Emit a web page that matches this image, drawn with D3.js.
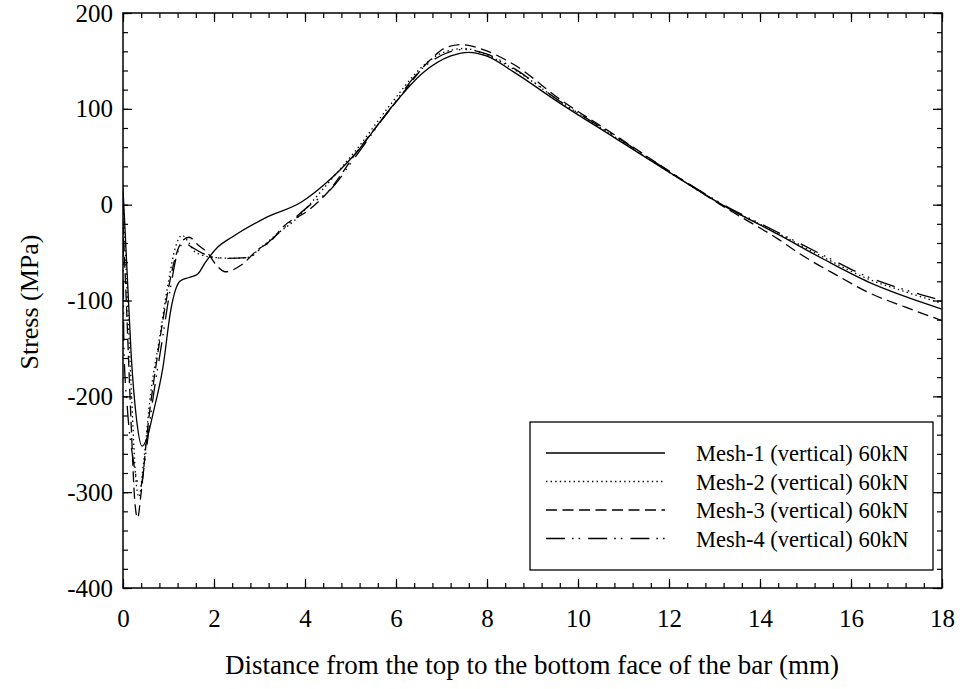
<!DOCTYPE html>
<html>
<head>
<meta charset="utf-8">
<script src="https://cdn.jsdelivr.net/npm/d3@7"></script>
<style>
  html, body { margin: 0; padding: 0; background: #fff; }
  svg { display: block; }
  text { font-family: "Liberation Serif", "Times New Roman", serif; fill: #000; }
</style>
</head>
<body>
<svg id="chart" width="964" height="689"></svg>
<script>
// Stress along the bar depth for four vertical meshes at 60 kN
const seriesNames = [
  "Mesh-1 (vertical) 60kN",
  "Mesh-2 (vertical) 60kN",
  "Mesh-3 (vertical) 60kN",
  "Mesh-4 (vertical) 60kN"
];

const mesh1X = [0, 0.08, 0.18, 0.3, 0.42, 0.55, 0.66, 0.88, 1.05, 1.25, 1.45, 1.65, 1.8, 2.09, 2.39, 3.12, 3.93, 4.4, 5.14, 5.87, 6.6, 7.19, 7.6, 8.0, 8.6, 9.6, 10.8, 12.0, 13.2, 14.4, 15.4, 16.4, 17.2, 18];
const mesh1Y = [17, -60, -157, -225, -252, -240, -218, -169, -110, -80, -76, -72, -61, -44, -34, -14, 3, 20, 55, 100, 138, 155, 159, 155, 138, 106, 70, 34, -1, -31, -57, -81, -96, -109];

const mesh2X = [0, 0.08, 0.18, 0.28, 0.35, 0.45, 0.6, 0.8, 1.0, 1.15, 1.3, 1.45, 1.6, 2.0, 2.4, 2.75, 3.0, 3.4, 3.78, 4.04, 4.5, 5.14, 5.87, 6.6, 7.0, 7.5, 8.0, 8.6, 9.6, 10.8, 12.0, 13.2, 14.4, 15.4, 16.4, 17.2, 18];
const mesh2Y = [5, -80, -190, -285, -305, -270, -200, -140, -80, -45, -32, -40, -50, -55, -56, -55, -46, -30, -16, -3, 22, 58, 104, 145, 158, 163, 156, 141, 108, 71, 34, -1, -30, -55, -78, -91, -103];

const mesh3X = [0, 0.08, 0.18, 0.26, 0.32, 0.4, 0.55, 0.75, 0.95, 1.15, 1.3, 1.45, 1.65, 1.87, 2.05, 2.25, 2.6, 2.96, 3.27, 3.5, 4.1, 4.5, 5.14, 6.0, 6.75, 7.1, 7.45, 7.9, 8.6, 9.6, 10.8, 12.0, 13.2, 14.4, 14.9, 15.7, 16.4, 17.2, 18];
const mesh3Y = [-20, -110, -230, -310, -327, -300, -230, -160, -100, -55, -38, -34, -42, -51, -63, -70, -63, -47, -37, -24, -5, 13, 55, 107, 151, 164, 167, 162, 146, 110, 73, 35, -2, -36, -52, -74, -92, -107, -121];

const mesh4X = [0, 0.02, 0.1, 0.22, 0.38, 0.5, 0.65, 0.85, 1.05, 1.2, 1.35, 1.5, 1.76, 2.0, 2.3, 2.75, 3.05, 3.5, 3.8, 4.2, 4.5, 5.14, 5.87, 6.6, 7.1, 7.5, 8.0, 8.6, 9.6, 10.8, 12.0, 13.2, 14.4, 15.4, 16.4, 17.2, 18];
const mesh4Y = [10, -150, -215, -265, -295, -260, -205, -145, -85, -50, -40, -44, -51, -55, -56, -55, -45, -26, -13, 3, 13, 52, 100, 143, 158, 162, 157, 142, 108, 72, 35, 0, -29, -53, -76, -89, -100];

const xTicks = [0, 2, 4, 6, 8, 10, 12, 14, 16, 18];
const yTicks = [-400, -300, -200, -100, 0, 100, 200];
const xMinorTicks = d3.range(0, 18.001, 0.4);
const yMinorTicks = d3.range(-400, 200.001, 20);

const xTitle = "Distance from the top to the bottom face of the bar (mm)";
const yTitle = "Stress (MPa)";

const dashStyles = ["none", "1.4,3.2", "11,5.5", "19,7,1.6,5,1.6,8"];

const series = [
  { name: seriesNames[0], xs: mesh1X, ys: mesh1Y, dash: dashStyles[0] },
  { name: seriesNames[1], xs: mesh2X, ys: mesh2Y, dash: dashStyles[1] },
  { name: seriesNames[2], xs: mesh3X, ys: mesh3Y, dash: dashStyles[2] },
  { name: seriesNames[3], xs: mesh4X, ys: mesh4Y, dash: dashStyles[3] }
];

const svg = d3.select("#chart");
const margin = { left: 123, top: 13, right: 22, bottom: 101 };
const W = 964 - margin.left - margin.right;
const H = 689 - margin.top - margin.bottom;

const x = d3.scaleLinear().domain([0, 18]).range([0, W]);
const y = d3.scaleLinear().domain([-400, 200]).range([H, 0]);

const g = svg.append("g").attr("transform", `translate(${margin.left},${margin.top})`);

// curves, clipped to the frame
g.append("clipPath").attr("id", "plotClip")
  .append("rect").attr("width", W).attr("height", H);

const line = d3.line()
  .x(d => x(d[0]))
  .y(d => y(d[1]))
  .curve(d3.curveMonotoneX);

const plot = g.append("g").attr("clip-path", "url(#plotClip)");
series.forEach(s => {
  const pts = s.xs.map((v, i) => [v, s.ys[i]]);
  plot.append("path")
    .datum(pts)
    .attr("d", line)
    .attr("fill", "none")
    .attr("stroke", "#000")
    .attr("stroke-width", 1.3)
    .attr("stroke-dasharray", s.dash === "none" ? null : s.dash);
});

// axes with inward ticks on all four sides; labels use a plain hyphen for negatives
const fontSize = 25;
const plainNumber = d => String(d);
function styleAxis(sel) {
  sel.select(".domain").remove();
  sel.selectAll("line").attr("stroke", "#000").attr("stroke-width", 1.2);
  sel.selectAll("text").style("font-size", fontSize + "px").style("font-family", '"Liberation Serif", "Times New Roman", serif').attr("fill", "#000");
}

g.append("g").attr("transform", `translate(0,${H})`)
  .call(d3.axisBottom(x).tickValues(xMinorTicks).tickSize(-5).tickFormat(""))
  .call(styleAxis);
g.append("g").attr("transform", `translate(0,${H})`)
  .call(d3.axisBottom(x).tickValues(xTicks).tickSize(-9).tickPadding(21).tickFormat(plainNumber))
  .call(styleAxis);
g.append("g")
  .call(d3.axisTop(x).tickValues(xMinorTicks).tickSize(-5).tickFormat(""))
  .call(styleAxis);
g.append("g")
  .call(d3.axisTop(x).tickValues(xTicks).tickSize(-9).tickFormat(""))
  .call(styleAxis);

g.append("g")
  .call(d3.axisLeft(y).tickValues(yMinorTicks).tickSize(-5).tickFormat(""))
  .call(styleAxis);
g.append("g")
  .call(d3.axisLeft(y).tickValues(yTicks).tickSize(-9).tickPadding(10).tickFormat(plainNumber))
  .call(styleAxis);
g.append("g").attr("transform", `translate(${W},0)`)
  .call(d3.axisRight(y).tickValues(yMinorTicks).tickSize(-5).tickFormat(""))
  .call(styleAxis);
g.append("g").attr("transform", `translate(${W},0)`)
  .call(d3.axisRight(y).tickValues(yTicks).tickSize(-9).tickFormat(""))
  .call(styleAxis);

// frame
g.append("rect")
  .attr("width", W).attr("height", H)
  .attr("fill", "none").attr("stroke", "#000").attr("stroke-width", 1.5);

// axis titles
svg.append("text")
  .attr("x", 532)
  .attr("y", 674)
  .attr("text-anchor", "middle")
  .style("font-size", "27px")
  .text(xTitle);

svg.append("text")
  .attr("transform", `translate(38,302) rotate(-90)`)
  .attr("text-anchor", "middle")
  .style("font-size", "26px")
  .text(yTitle);

// legend
const legend = svg.append("g").attr("transform", "translate(530,422)");
legend.append("rect")
  .attr("width", 403).attr("height", 148)
  .attr("fill", "#fff").attr("stroke", "#000").attr("stroke-width", 1.3);

series.forEach((s, i) => {
  const cy = 31 + i * 28.5;
  legend.append("line")
    .attr("x1", 16).attr("x2", 135)
    .attr("y1", cy).attr("y2", cy)
    .attr("stroke", "#000").attr("stroke-width", 1.3)
    .attr("stroke-dasharray", s.dash === "none" ? null : s.dash);
  legend.append("text")
    .attr("x", 166).attr("y", cy + 8)
    .style("font-size", "22.5px")
    .text(s.name);
});
</script>
</body>
</html>
